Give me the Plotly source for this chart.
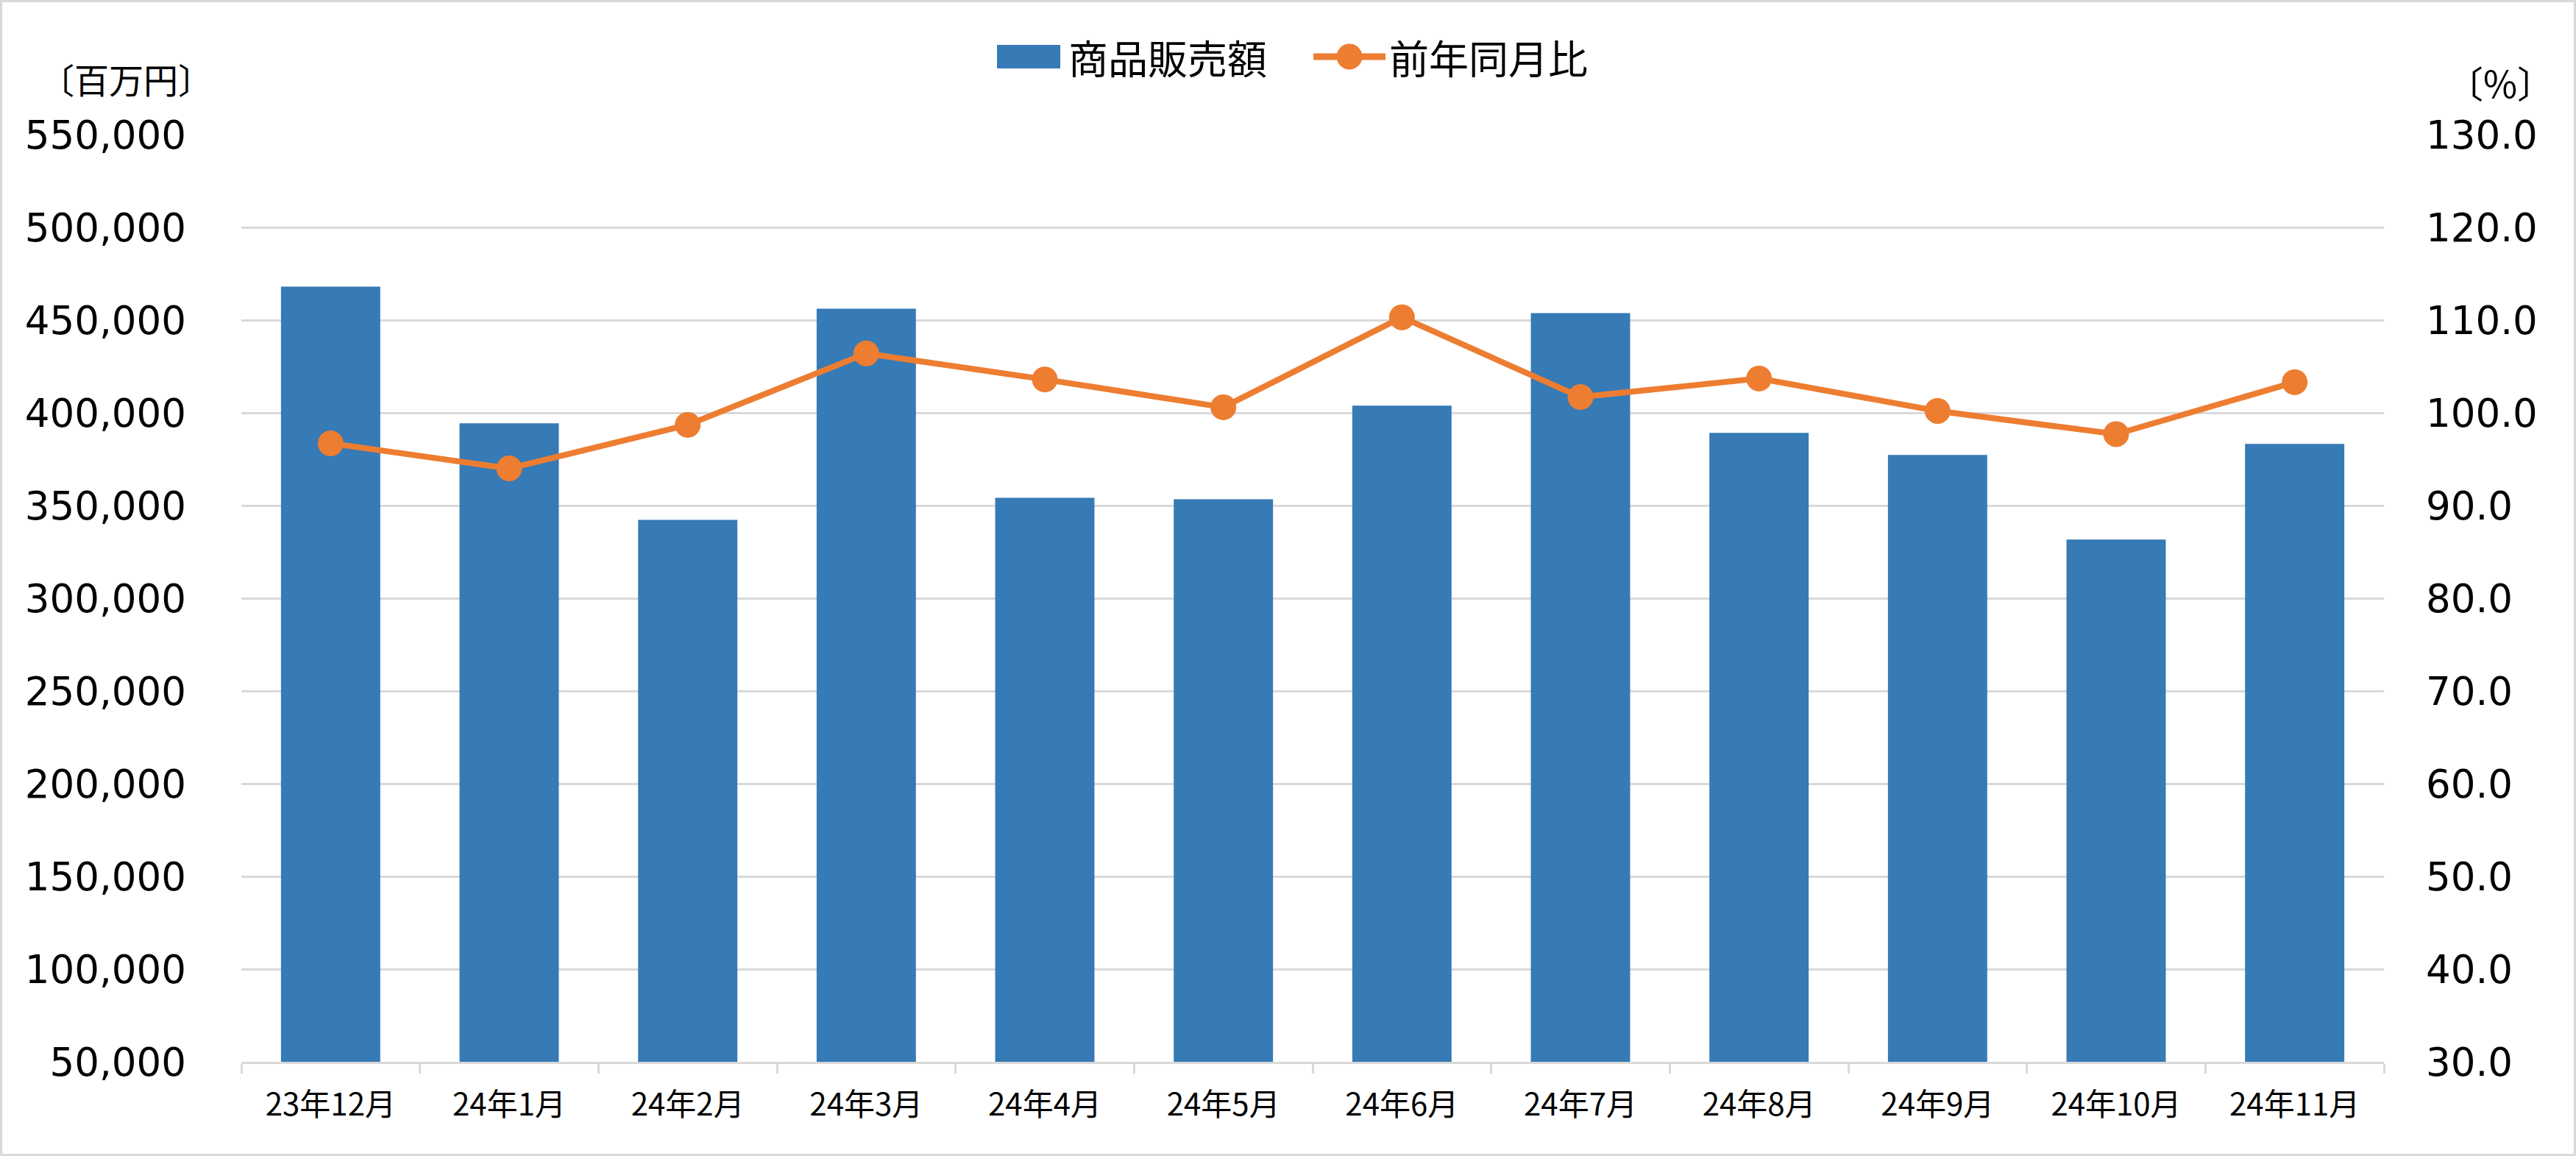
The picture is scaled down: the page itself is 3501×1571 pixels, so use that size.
import plotly.graph_objects as go

categories = ["23年12月", "24年1月", "24年2月", "24年3月", "24年4月", "24年5月",
              "24年6月", "24年7月", "24年8月", "24年9月", "24年10月", "24年11月"]
sales = [468100, 394300, 342300, 456200, 354200, 353400,
         403900, 453800, 389200, 377300, 331600, 383200]
yoy = [96.7, 94.0, 98.7, 106.4, 103.6, 100.6,
       110.3, 101.7, 103.7, 100.2, 97.7, 103.3]

BLUE = "#367AB6"
ORANGE = "#ED7D31"
GRID = "#D9D9D9"

W, H = 3501, 1571
L, R, T, B = 328, 261, 183, 128
PW, PH = W - L - R, H - T - B


def px(x):
    return (x - L) / PW


def py(y):
    return (H - B - y) / PH


fig = go.Figure()
fig.add_trace(go.Bar(x=categories, y=sales, name="商品販売額",
                     marker=dict(color=BLUE, line=dict(width=0)), yaxis="y"))
fig.add_trace(go.Scatter(x=categories, y=yoy, name="前年同月比", mode="lines+markers",
                         line=dict(color=ORANGE, width=8),
                         marker=dict(color=ORANGE, size=35), yaxis="y2"))

shapes = [
    # outer border
    dict(type="rect", xref="paper", yref="paper",
         x0=px(1.5), x1=px(W - 1.5), y0=py(H - 1.5), y1=py(1.5),
         line=dict(color=GRID, width=3), fillcolor="rgba(0,0,0,0)", layer="below"),
    # legend: bar swatch
    dict(type="rect", xref="paper", yref="paper",
         x0=px(1355), x1=px(1441), y0=py(93), y1=py(61),
         line=dict(width=0), fillcolor=BLUE),
    # legend: line swatch
    dict(type="line", xref="paper", yref="paper",
         x0=px(1785), x1=px(1883), y0=py(77), y1=py(77),
         line=dict(color=ORANGE, width=9)),
    dict(type="circle", xref="paper", yref="paper",
         x0=px(1834 - 17.5), x1=px(1834 + 17.5), y0=py(77 + 17.5), y1=py(77 - 17.5),
         line=dict(width=0), fillcolor=ORANGE),
]

annotations = [
    dict(text="〔百万円〕", xref="paper", yref="paper", x=px(171), y=py(106),
         xanchor="center", yanchor="middle", showarrow=False,
         font=dict(family="Noto Sans CJK JP", size=47, color="black")),
    dict(text="〔%〕", xref="paper", yref="paper", x=px(3398), y=py(111),
         xanchor="center", yanchor="middle", showarrow=False,
         font=dict(family="Noto Sans CJK JP", size=50, color="black")),
    dict(text="商品販売額", xref="paper", yref="paper", x=px(1450), y=py(77),
         xanchor="left", yanchor="middle", showarrow=False,
         font=dict(family="Noto Sans CJK JP", size=54, color="black")),
    dict(text="前年同月比", xref="paper", yref="paper", x=px(1886), y=py(77),
         xanchor="left", yanchor="middle", showarrow=False,
         font=dict(family="Noto Sans CJK JP", size=54, color="black")),
]

fig.update_layout(
    width=W, height=H,
    margin=dict(l=L, r=R, t=T, b=B, pad=0),
    paper_bgcolor="white", plot_bgcolor="white",
    showlegend=False,
    bargap=0.444,
    shapes=shapes,
    annotations=annotations,
    xaxis=dict(type="category", range=[-0.5, len(categories) - 0.5],
               showline=True, linecolor=GRID, linewidth=3,
               ticks="outside", tickson="boundaries", ticklen=13, tickwidth=3,
               tickcolor=GRID, showgrid=False, zeroline=False,
               tickfont=dict(family="Noto Sans CJK JP", size=42, color="black"),
               ticklabelstandoff=20),
    yaxis=dict(range=[50000, 550000], dtick=50000, tick0=50000, tickformat=",",
               showgrid=True, gridcolor=GRID, gridwidth=3, zeroline=False,
               showline=False, ticks="",
               tickfont=dict(family="DejaVu Sans", size=53, color="black"),
               ticklabelstandoff=74),
    yaxis2=dict(range=[30, 130], dtick=10, tick0=30, tickformat=".1f",
                overlaying="y", side="right", showgrid=False, zeroline=False,
                showline=False, ticks="",
                tickfont=dict(family="DejaVu Sans", size=53, color="black"),
                ticklabelstandoff=56),
)

fig.write_html("out.html")
